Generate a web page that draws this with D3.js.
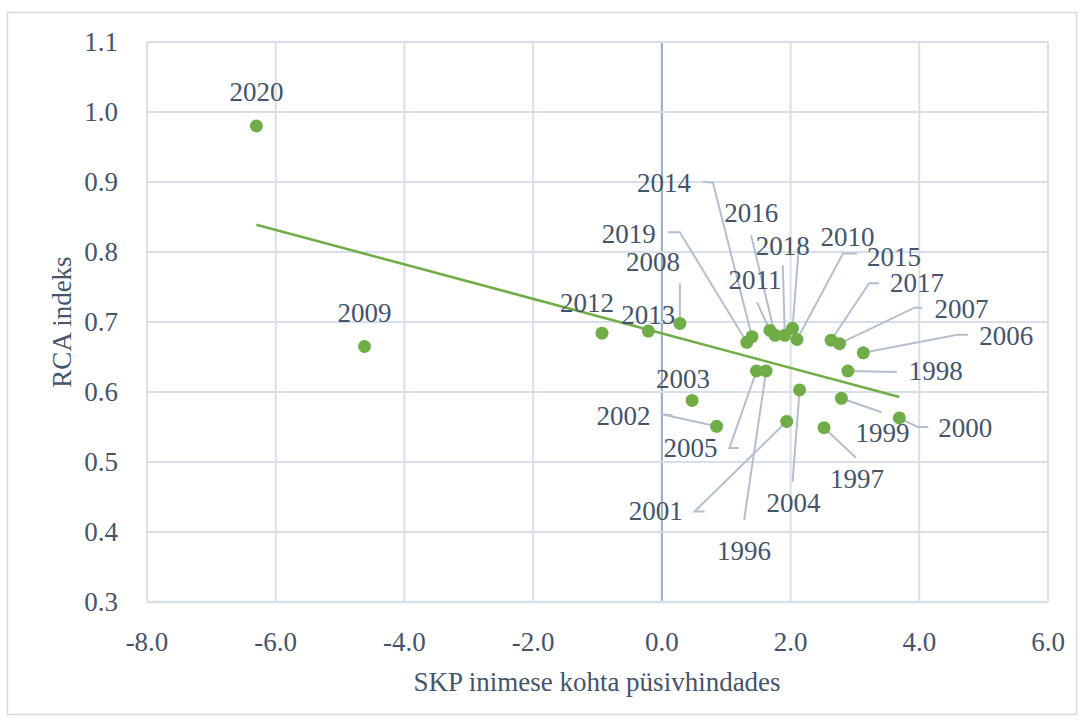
<!DOCTYPE html>
<html><head><meta charset="utf-8">
<script src="https://cdn.jsdelivr.net/npm/d3@7"></script>
<style>body{margin:0;background:#fff} svg text{font-family:"Liberation Serif","DejaVu Serif",serif;}</style>
</head><body>
<script>
// ---- data ----
const years = [2020,2009,2012,2013,2008,2019,2014,2011,2016,2018,2010,2015,2017,2007,2006,1998,1999,2000,1997,2005,1996,2003,2002,2004,2001];
const gdpGrowth = [-6.30,-4.62,-0.93,-0.21,0.28,1.32,1.40,1.68,1.76,1.91,2.03,2.10,2.63,2.76,3.13,2.89,2.79,3.69,2.52,1.47,1.62,0.47,0.85,2.14,1.94];
const rcaIndex = [0.980,0.665,0.684,0.687,0.698,0.671,0.679,0.688,0.681,0.681,0.691,0.675,0.674,0.669,0.656,0.630,0.591,0.563,0.549,0.630,0.630,0.588,0.551,0.603,0.558];
const xTicks = [-8,-6,-4,-2,0,2,4,6];
const yTicks = [0.3,0.4,0.5,0.6,0.7,0.8,0.9,1.0,1.1];
const xTitle = "SKP inimese kohta püsivhindades";
const yTitle = "RCA indeks";

// ---- label layout (pixel offsets from point: label centre, leader path) ----
const labelLayout = {
  2020:{dx:0,dy:-34}, 2009:{dx:0,dy:-34}, 2012:{dx:-15,dy:-30}, 2013:{dx:0,dy:-16},
  2003:{dx:-9,dy:-21},
  2008:{dx:-27,dy:-61, lead:[[0,-40]]},
  2014:{dx:-88,dy:-154, lead:[[-49,-155],[-39,-154]]},
  2019:{dx:-118,dy:-108, lead:[[-79,-110],[-67,-110]]},
  2016:{dx:-24,dy:-122, lead:[[-24,-100]]},
  2018:{dx:-2,dy:-89, lead:[[-2,-70]]},
  2011:{dx:-15,dy:-50, lead:[[-13,-28]]},
  2010:{dx:55,dy:-91, lead:[[7,-90]]},
  2015:{dx:97,dy:-83, lead:[[60,-86],[46,-86]]},
  2017:{dx:86,dy:-57, lead:[[48,-57],[38,-57]]},
  2007:{dx:122,dy:-35, lead:[[83,-36],[75,-36]]},
  2006:{dx:143,dy:-17, lead:[[105,-18],[94,-18]]},
  1998:{dx:88,dy:0, lead:[[49,1]]},
  1999:{dx:41,dy:35, lead:[[40,14]]},
  2000:{dx:66,dy:10, lead:[[29,9],[18,9]]},
  1997:{dx:33,dy:51, lead:[[32,30]]},
  2004:{dx:-6,dy:113, lead:[[-7,92]]},
  1996:{dx:-22,dy:180, lead:[[-22,149]]},
  2001:{dx:-131,dy:90, lead:[[-82,90],[-92,90]]},
  2005:{dx:-66,dy:77, lead:[[-18,77],[-27,77]]},
  2002:{dx:-93,dy:-10, lead:[[-44,-11],[-55,-12]]}
};

const W = 1085, H = 722;
const svg = d3.select("body").append("svg").attr("width",W).attr("height",H);
const txt = "#44546A";
const fs = 27;
const fmt = d => d3.format(".1f")(d).replace("\u2212","-");

svg.append("rect").attr("x",7.5).attr("y",12.5).attr("width",1069).attr("height",702)
  .attr("fill","#fff").attr("stroke","#D9D9D9").attr("stroke-width",1.5);

const x = d3.scaleLinear().domain([-8,6]).range([147,1048]);
const y = d3.scaleLinear().domain([0.3,1.1]).range([602,42]);

const g = svg.append("g");
g.selectAll(".vg").data(xTicks).join("line")
  .attr("x1",d=>x(d)).attr("x2",d=>x(d)).attr("y1",y(1.1)).attr("y2",y(0.3))
  .attr("stroke",d=>d===0?"#9AAABF":"#D9DFE8").attr("stroke-width",2);
g.selectAll(".hg").data(yTicks).join("line")
  .attr("x1",x(-8)).attr("x2",x(6)).attr("y1",d=>y(d)).attr("y2",d=>y(d))
  .attr("stroke","#D9DFE8").attr("stroke-width",d=>d===0.3?2.5:2);

g.selectAll(".xt").data(xTicks).join("text")
  .attr("x",d=>x(d)).attr("y",642).attr("text-anchor","middle").attr("dominant-baseline","central")
  .attr("font-size",fs).attr("fill",txt).text(fmt);
g.selectAll(".yt").data(yTicks).join("text")
  .attr("x",118).attr("y",d=>y(d)).attr("text-anchor","end").attr("dominant-baseline","central")
  .attr("font-size",fs).attr("fill",txt).text(fmt);

svg.append("text").attr("x",597).attr("y",682).attr("text-anchor","middle").attr("dominant-baseline","central")
  .attr("font-size",fs).attr("fill",txt).text(xTitle);
svg.append("text").attr("transform","translate(62,322) rotate(-90)").attr("text-anchor","middle").attr("dominant-baseline","central")
  .attr("font-size",fs).attr("fill",txt).text(yTitle);

const pts = years.map((yr,i)=>({yr, gx:gdpGrowth[i], r:rcaIndex[i]}));
pts.forEach(p=>{
  const L = labelLayout[p.yr];
  if(!L || !L.lead) return;
  const px = x(p.gx), py = y(p.r);
  const path = L.lead.map(o=>[px+o[0],py+o[1]]).concat([[px,py]]);
  svg.append("path").attr("d",d3.line()(path)).attr("fill","none")
    .attr("stroke","#B4BFCD").attr("stroke-width",2);
});

const n = gdpGrowth.length;
const mx = d3.mean(gdpGrowth), my = d3.mean(rcaIndex);
let sxy=0,sxx=0;
for(let i=0;i<n;i++){sxy+=(gdpGrowth[i]-mx)*(rcaIndex[i]-my);sxx+=(gdpGrowth[i]-mx)**2;}
const slope = sxy/sxx, icpt = my - slope*mx;
const [xmin,xmax] = d3.extent(gdpGrowth);
svg.append("line").attr("x1",x(xmin)).attr("y1",y(icpt+slope*xmin))
  .attr("x2",x(xmax)).attr("y2",y(icpt+slope*xmax))
  .attr("stroke","#70AD47").attr("stroke-width",2.5);

svg.selectAll(".pt").data(pts).join("circle")
  .attr("cx",d=>x(d.gx)).attr("cy",d=>y(d.r)).attr("r",6.5).attr("fill","#70AD47");

svg.selectAll(".lb").data(pts).join("text")
  .attr("x",d=>x(d.gx)+labelLayout[d.yr].dx).attr("y",d=>y(d.r)+labelLayout[d.yr].dy)
  .attr("text-anchor","middle").attr("dominant-baseline","central")
  .attr("font-size",fs).attr("fill",txt).text(d=>d.yr);
</script>
</body></html>
